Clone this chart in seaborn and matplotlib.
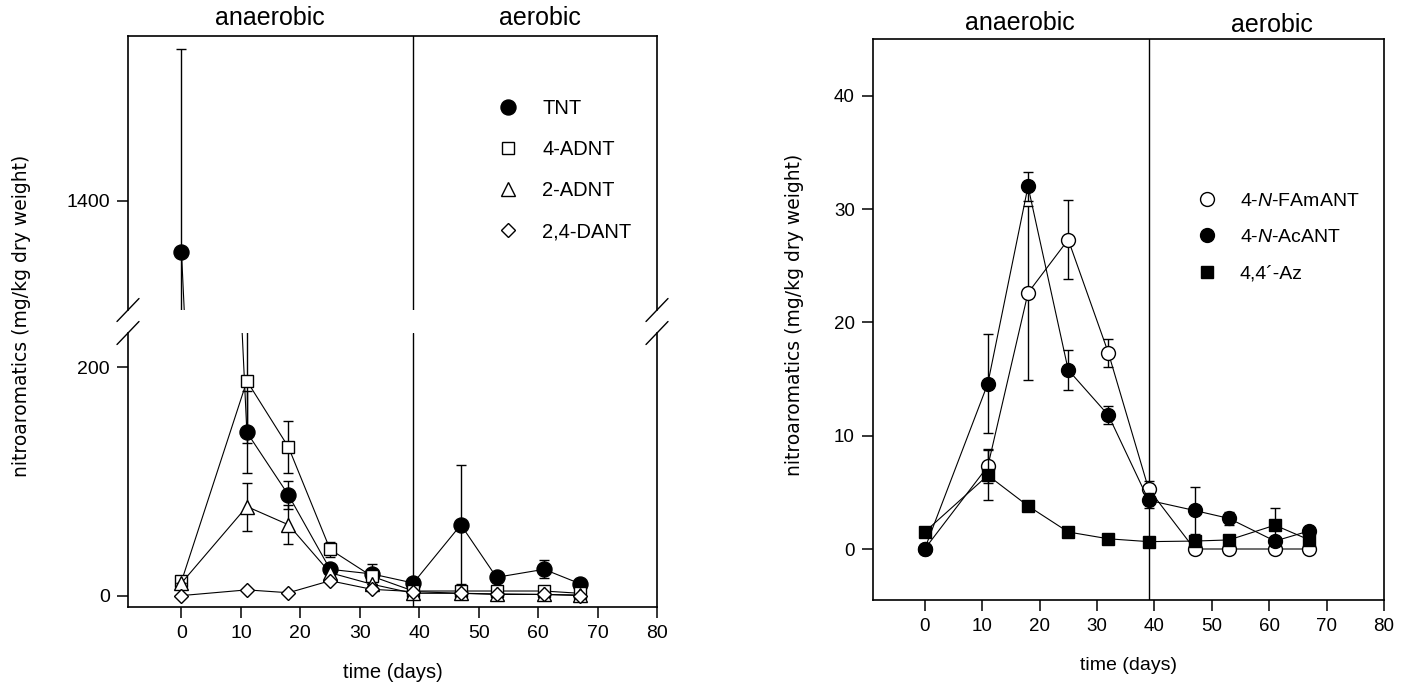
import matplotlib
matplotlib.use("Agg")
import matplotlib.pyplot as plt
from matplotlib.lines import Line2D
import seaborn as sns

# sampling days
days = [0, 11, 18, 25, 32, 39, 47, 53, 61, 67]

# left panel: TNT and amino-dinitrotoluenes (mg/kg dry weight)
tnt = [1355, 143, 88, 23, 19, 11, 62, 16, 23, 10.5]
tnt_err = [178, 36, 12, 4, 9, 3, 52, 3, 8, 3]
adnt4 = [12.5, 188, 130, 40.5, 17, 4, 4, 4, 4, 2]
adnt4_err = [0, 54, 23, 6.5, 0, 0, 0, 0, 0, 0]
adnt2 = [11, 78, 62, 20, 10, 2, 2, 1, 1, 0.5]
adnt2_err = [0, 21, 17, 0, 0, 0, 0, 0, 0, 0]
dant = [0, 5, 2.5, 13, 5.5, 3.5, 2, 1.5, 1, 0]
dant_err = [0, 0, 0, 0, 0, 0, 0, 0, 0, 0]
left_labels = ["TNT", "4-ADNT", "2-ADNT", "2,4-DANT"]

# right panel: formylated / acetylated products and azoxy compound
famant = [0, 7.3, 22.6, 27.3, 17.3, 5.3, 0, 0, 0, 0]
famant_err = [0, 1.5, 7.7, 3.5, 1.25, 0.7, 0, 0, 0, 0]
acant = [0, 14.6, 32.0, 15.8, 11.8, 4.3, 3.4, 2.7, 0.7, 1.6]
acant_err = [0, 4.4, 1.3, 1.75, 0.8, 0.65, 2.1, 0.6, 0, 0]
az = [1.5, 6.5, 3.8, 1.5, 0.9, 0.65, 0.7, 0.8, 2.1, 0.8]
az_err = [0, 2.2, 0, 0, 0, 0, 0, 0, 1.5, 0]
right_labels = ["4-$\\mathit{N}$-FAmANT", "4-$\\mathit{N}$-AcANT", "4,4\u00b4-Az"]

phase_day = 39

sns.set_theme(style="ticks")
plt.rcParams["font.family"] = ["Liberation Sans", "DejaVu Sans"]
plt.rcParams["mathtext.fontset"] = "custom"
plt.rcParams["mathtext.rm"] = "Liberation Sans"
plt.rcParams["mathtext.it"] = "Liberation Sans:italic"
for key in ("text.color", "axes.labelcolor", "xtick.color", "ytick.color",
            "axes.edgecolor"):
    plt.rcParams[key] = "black"

W, H = 1404, 693


def box(x0, y0, x1, y1):
    return [x0 / W, 1 - y1 / H, (x1 - x0) / W, (y1 - y0) / H]


fig = plt.figure(figsize=(W / 100, H / 100), dpi=100)
ax_hi = fig.add_axes(box(128, 36, 657, 310))
ax_lo = fig.add_axes(box(128, 333, 657, 607))
ax_r = fig.add_axes(box(873, 39, 1384, 600))


def draw_series(ax, y, err, marker, ms, face, z):
    ax.errorbar(days, y, yerr=err, fmt="none", ecolor="black",
                elinewidth=1.0, capsize=3.5, capthick=1.0, zorder=z)
    sns.lineplot(x=days, y=y, ax=ax, color="black", linewidth=0.8,
                 marker=marker, markersize=ms, markerfacecolor=face,
                 markeredgecolor="black", markeredgewidth=1.0,
                 errorbar=None, zorder=z + 0.5)


left_series = [
    (tnt, tnt_err, "o", 10.8, "black"),
    (adnt4, adnt4_err, "s", 8.8, "white"),
    (adnt2, adnt2_err, "^", 10.0, "white"),
    (dant, dant_err, "D", 7.6, "white"),
]
for ax in (ax_hi, ax_lo):
    for i, (y, e, m, ms, fc) in enumerate(left_series):
        draw_series(ax, y, e, m, ms, fc, 2 + i)

right_series = [
    (famant, famant_err, "o", 10.0, "white"),
    (acant, acant_err, "o", 10.0, "black"),
    (az, az_err, "s", 9.2, "black"),
]
for i, (y, e, m, ms, fc) in enumerate(right_series):
    draw_series(ax_r, y, e, m, ms, fc, 2 + i)

for ax in (ax_hi, ax_lo, ax_r):
    ax.set_xlim(-9, 80)
    ax.axvline(phase_day, color="black", lw=1.0, zorder=1)
    for s in ax.spines.values():
        s.set_linewidth(1.2)
        s.set_color("black")
    ax.tick_params(direction="out", length=8, width=1.1, labelsize=14,
                   pad=5, color="black", labelcolor="black")
    ax.set_xlabel("")
    ax.set_ylabel("")

ax_hi.set_ylim(1304.5, 1544.5)
ax_hi.set_yticks([1400])
ax_hi.spines["bottom"].set_visible(False)
ax_hi.tick_params(axis="x", bottom=False, labelbottom=False)

ax_lo.set_ylim(-10, 230)
ax_lo.set_yticks([0, 200])
ax_lo.spines["top"].set_visible(False)
ax_lo.set_xticks(range(0, 81, 10))

ax_r.set_ylim(-4.5, 45)
ax_r.set_yticks(range(0, 41, 10))
ax_r.set_xticks(range(0, 81, 10))
ax_r.tick_params(labelsize=13.5)

# axis-break slashes on both side spines
dx, dy = 11, 11.5
for ax, yref in ((ax_hi, 0), (ax_lo, 1)):
    bb = ax.get_position()
    wpx, hpx = bb.width * W, bb.height * H
    for xref in (0, 1):
        ax.plot([xref + dx / wpx, xref - dx / wpx],
                [yref + dy / hpx, yref - dy / hpx],
                transform=ax.transAxes, color="black", lw=1.0, clip_on=False)

# phase headings
for ax, xa, xb, ya, yb in ((ax_lo, 14.9, 60.3, 18, 18),
                           (ax_r, 16.5, 60.5, 23, 25)):
    ax.annotate("anaerobic", xy=(xa, 1 - ya / H),
                xycoords=("data", "figure fraction"),
                ha="center", va="center", fontsize=18)
    ax.annotate("aerobic", xy=(xb, 1 - yb / H),
                xycoords=("data", "figure fraction"),
                ha="center", va="center", fontsize=18)

ax_lo.set_xlabel("time (days)", fontsize=14.5, labelpad=15)
ax_r.set_xlabel("time (days)", fontsize=14, labelpad=16)

ylab = "nitroaromatics (mg/kg dry weight)"
fig.text(22 / W, 1 - 316 / H, ylab, rotation=90, ha="center", va="center",
         family="DejaVu Sans", fontsize=13.5)
fig.text(795 / W, 1 - 315 / H, ylab, rotation=90, ha="center", va="center",
         family="DejaVu Sans", fontsize=13.5)

# legends
lh = [Line2D([], [], ls="none", marker=m, ms=ms, mfc=fc, mec="black", mew=1.0)
      for (_, _, m, ms, fc) in left_series]
ax_hi.legend(lh, left_labels, loc="upper left",
             bbox_to_anchor=((508 - 10) / W, 1 - 99 / H),
             bbox_transform=fig.transFigure, frameon=False, fontsize=14.5,
             handlelength=1.0, handletextpad=1.2, labelspacing=1.1,
             borderpad=0, borderaxespad=0)

rh = [Line2D([], [], ls="none", marker=m, ms=ms, mfc=fc, mec="black", mew=1.0)
      for (_, _, m, ms, fc) in right_series]
ax_r.legend(rh, right_labels, loc="upper left",
            bbox_to_anchor=((1207 - 10) / W, 1 - 192 / H),
            bbox_transform=fig.transFigure, frameon=False, fontsize=14,
            handlelength=1.0, handletextpad=1.2, labelspacing=0.98,
            borderpad=0, borderaxespad=0)

fig.savefig("out.png", dpi=100, facecolor="white")
